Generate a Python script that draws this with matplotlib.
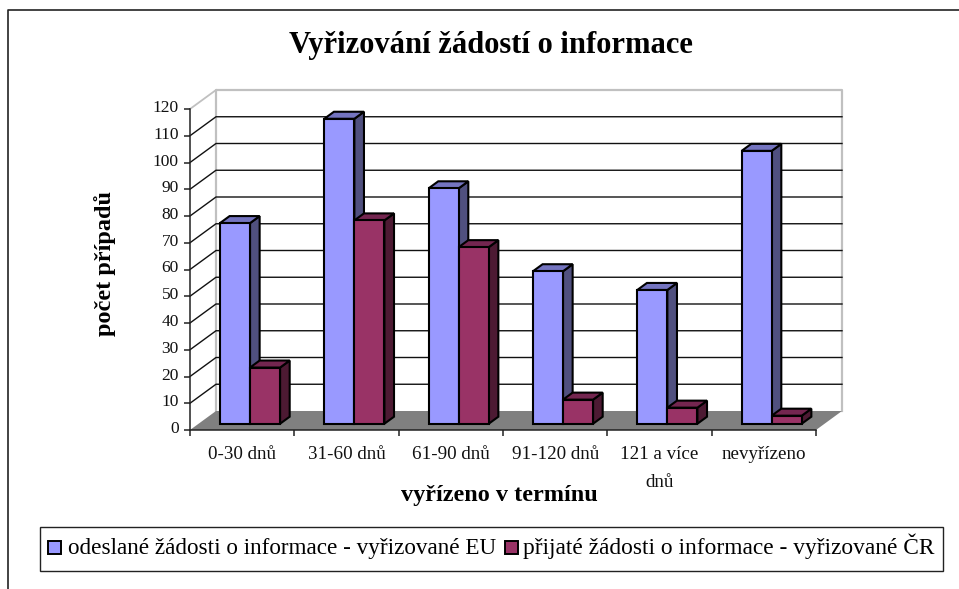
import matplotlib
matplotlib.use('Agg')
import matplotlib.pyplot as plt
from matplotlib.patches import Polygon, Rectangle
from matplotlib.transforms import ScaledTranslation

categories=['0-30 dnů','31-60 dnů','61-90 dnů','91-120 dnů','121 a více\ndnů','nevyřízeno']
odeslane=[75,114,88,57,50,102]
prijate=[21,76,66,9,6,3]
yticks=list(range(0,130,10))

W,H=959,589
plt.rcParams['font.family']=['Liberation Serif','DejaVu Serif']
fig=plt.figure(figsize=(W/100,H/100),dpi=100)

# page frame, in pixels
bg=fig.add_axes([0,0,1,1])
bg.set_xlim(0,W)
bg.set_ylim(H,0)
bg.axis('off')
bg.plot([8,8,W],[H,10,10],color='#222222',lw=1.2)

# front plane of the 3d box
x0,x1,ytop,ybot=190,816,109,430
ax=fig.add_axes([x0/W,1-ybot/H,(x1-x0)/W,(ybot-ytop)/H])
ax.set_xlim(0,6)
ax.set_ylim(0,120)
ax.patch.set_visible(False)
for s in ['top','right']:
    ax.spines[s].set_visible(False)
for s in ['left','bottom']:
    ax.spines[s].set_color('#222222')
    ax.spines[s].set_linewidth(1.1)

dx=26/(x1-x0)*6
dy=19/(ybot-ytop)*120

def shift(x,y,f):
    return (x+dx*f,y+dy*f)

# floor and walls
ax.plot([dx,dx,6+dx,6+dx],[dy,120+dy,120+dy,dy],color='#c0c0c0',lw=1.6,zorder=1,clip_on=False)
ax.plot([0,dx],[120,120+dy],color='#c0c0c0',lw=1.3,zorder=1,clip_on=False)
for v in yticks[1:-1]:
    ax.plot([0,dx,6+dx],[v,v+dy,v+dy],color='#111111',lw=1.0,zorder=2,clip_on=False)
ax.add_patch(Polygon([(0,0),(6,0),(6+dx,dy),(dx,dy)],fc='#808080',ec='none',zorder=2,clip_on=False))

# bars
f0,f1=0.33,0.70
bw=0.288
off=0.205
def bar3d(x,v,front,top,side,z):
    a=shift(x,0,f0); b=shift(x+bw,0,f0)
    ytop_=a[1]+v
    d=(dx*(f1-f0),dy*(f1-f0))
    kw=dict(ec='black',lw=1.5,joinstyle='miter',clip_on=False,zorder=z)
    ax.add_patch(Polygon([(b[0],a[1]),(b[0]+d[0],a[1]+d[1]),(b[0]+d[0],ytop_+d[1]),(b[0],ytop_)],fc=side,**kw))
    ax.add_patch(Polygon([(a[0],ytop_),(b[0],ytop_),(b[0]+d[0],ytop_+d[1]),(a[0]+d[0],ytop_+d[1])],fc=top,**kw))
    ax.add_patch(Rectangle((a[0],a[1]),bw,v,fc=front,**kw))

for i in range(6):
    bar3d(i+off,odeslane[i],'#9999ff','#7474c0','#50507f',3+i*2)
    bar3d(i+off+bw,prijate[i],'#993366','#742650','#4d1a33',4+i*2)

ax.set_xticks(range(7))
ax.set_xticklabels([])
ax.set_yticks(yticks)
ax.set_yticklabels([str(v) for v in yticks],fontsize=12.5,color='#111111')
ax.tick_params(axis='both',length=4,width=1.1,color='#222222')
ax.tick_params(axis='y',direction='out',pad=4)
up=ScaledTranslation(0,3/100,fig.dpi_scale_trans)
for t in ax.get_yticklabels():
    t.set_transform(t.get_transform()+up)
for i,c in enumerate(categories):
    ax.annotate(c,(i+0.5,0),xytext=(0,-11.5),textcoords='offset points',ha='center',va='top',fontsize=13.7,
                linespacing=1.85,color='#111111')

# titles
bg.text(491,45,'Vyřizování žádostí o informace',ha='center',va='center',fontsize=22,fontweight='bold')
bg.text(105,263,'počet případů',rotation=90,ha='center',va='center',fontsize=17.5,fontweight='bold')
bg.text(499,495,'vyřízeno v termínu',ha='center',va='center',fontsize=17.5,fontweight='bold')

# legend box
bg.add_patch(Rectangle((40,527),903,44,fc='white',ec='#222222',lw=1.0))
bg.add_patch(Rectangle((48,541),13,13,fc='#9999ff',ec='black',lw=1.4))
bg.text(68,554,'odeslané žádosti o informace - vyřizované EU',ha='left',va='baseline',fontsize=16.7)
bg.add_patch(Rectangle((505,541),13,13,fc='#993366',ec='black',lw=1.4))
bg.text(523,554,'přijaté žádosti o informace - vyřizované ČR',ha='left',va='baseline',fontsize=16.8)

fig.savefig('out.png',dpi=100)
